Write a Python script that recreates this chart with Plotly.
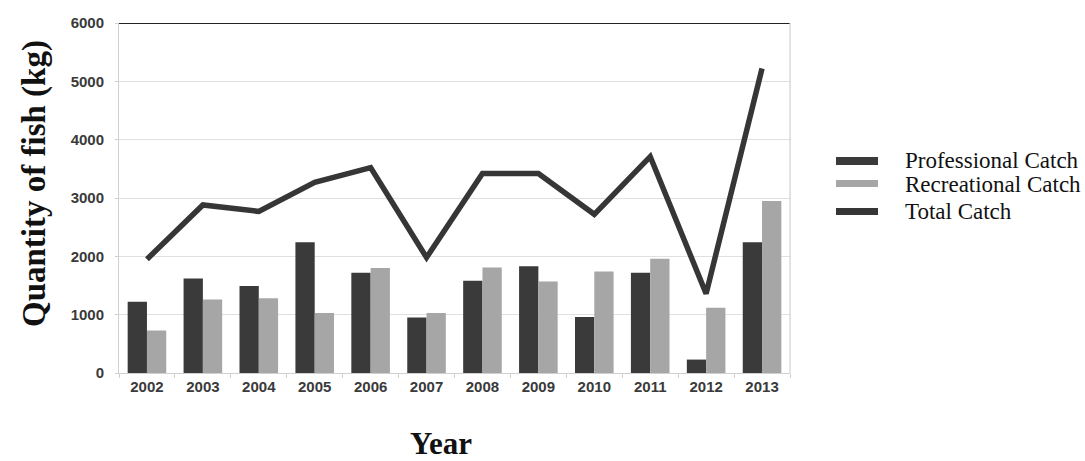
import plotly.graph_objects as go

years = ["2002", "2003", "2004", "2005", "2006", "2007",
         "2008", "2009", "2010", "2011", "2012", "2013"]
professional = [1220, 1620, 1490, 2240, 1720, 950, 1580, 1830, 960, 1720, 230, 2240]
recreational = [730, 1260, 1280, 1030, 1800, 1030, 1810, 1570, 1740, 1960, 1120, 2950]
total = [1950, 2880, 2770, 3270, 3520, 1980, 3420, 3420, 2720, 3710, 1360, 5220]
y_ticks = [0, 1000, 2000, 3000, 4000, 5000, 6000]

series_names = ["Professional Catch", "Recreational Catch", "Total Catch"]
series_colors = ["#3a3a3a", "#a6a6a6", "#363636"]

W, H = 1085, 461
L, R, T, B = 119, 295, 23, 88
PW, PH = W - L - R, H - T - B


def px_x(px):
    return (px - L) / PW


def px_y(py):
    return (H - B - py) / PH


fig = go.Figure()
fig.add_trace(go.Bar(x=years, y=professional, name=series_names[0],
                     marker=dict(color=series_colors[0], line=dict(width=0))))
fig.add_trace(go.Bar(x=years, y=recreational, name=series_names[1],
                     marker=dict(color=series_colors[1], line=dict(width=0))))
fig.add_trace(go.Scatter(x=years, y=total, name=series_names[2], mode="lines",
                         line=dict(color=series_colors[2], width=5.5)))

serif = "Liberation Serif, Times New Roman, serif"
sans = "Liberation Sans, Arial, sans-serif"

annotations = [
    dict(text="<b>Quantity of fish (kg)</b>", textangle=-90, xref="paper", yref="paper",
         x=px_x(34), y=px_y(184), xanchor="center", yanchor="middle", showarrow=False,
         font=dict(family=serif, size=33, color="#111")),
    dict(text="<b>Year</b>", xref="paper", yref="paper",
         x=px_x(441), y=px_y(443), xanchor="center", yanchor="middle", showarrow=False,
         font=dict(family=serif, size=31, color="#111")),
]
shapes = [
    # dark rule along the top of the plot area
    dict(type="line", xref="paper", yref="y", x0=0, x1=1, y0=6000, y1=6000,
         line=dict(color="#222", width=2)),
    # light frame on the right side
    dict(type="line", xref="paper", yref="paper", x0=1, x1=1, y0=0, y1=1,
         line=dict(color="#c8c8c8", width=1)),
]

# legend key: swatch bars with labels to their right
legend_rows = [(157, 165, 161), (180, 187, 184), (208, 215, 211)]
for name, color, (y0, y1, yc) in zip(series_names, series_colors, legend_rows):
    shapes.append(dict(type="rect", xref="paper", yref="paper",
                       x0=px_x(836), x1=px_x(878), y0=px_y(y1), y1=px_y(y0),
                       fillcolor=color, line=dict(width=0)))
    annotations.append(dict(text=name, xref="paper", yref="paper",
                            x=px_x(903), y=px_y(yc), xanchor="left", yanchor="middle",
                            showarrow=False, font=dict(family=serif, size=23, color="#111")))

fig.update_layout(
    width=W, height=H,
    margin=dict(l=L, r=R, t=T, b=B),
    paper_bgcolor="white", plot_bgcolor="white",
    barmode="group", bargap=0.31, bargroupgap=0,
    showlegend=False,
    xaxis=dict(type="category",
               tickfont=dict(family=sans, size=15, color="#3a3a3a", weight="bold"),
               showline=True, linecolor="#d0d0d0", ticks="outside", ticklen=4,
               tickcolor="#d0d0d0", tickson="boundaries", showgrid=False),
    yaxis=dict(range=[0, 6000], tickvals=y_ticks,
               tickfont=dict(family=sans, size=15, color="#3a3a3a", weight="bold"),
               showgrid=True, gridcolor="#e0e0e0", gridwidth=1, zeroline=False,
               showline=True, linecolor="#d0d0d0", ticks="outside", ticklen=3,
               tickcolor="#d0d0d0", ticklabelstandoff=8),
    annotations=annotations,
    shapes=shapes,
)

fig.write_html("out.html")
